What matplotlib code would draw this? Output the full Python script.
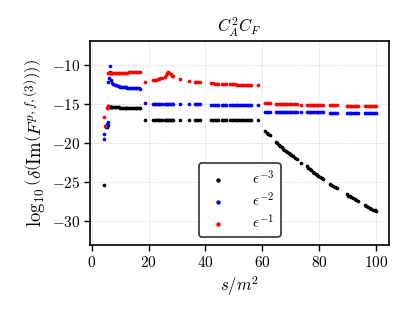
import matplotlib
matplotlib.use("Agg")
import matplotlib.pyplot as plt
import numpy as np

plt.rcParams.update({
    "font.family": "serif",
    "font.serif": ["cmr10"],
    "mathtext.fontset": "cm",
    "axes.formatter.use_mathtext": True,
    "axes.unicode_minus": True,
})

# ---------------- data ----------------
# threshold region (individual points)
xA_e3 = [4.3, 5.2, 5.5]
yA_e3 = [-25.4, -17.9, -17.7]
xA_e2 = [4.2, 4.3, 5.1, 5.3, 5.5]
yA_e2 = [-18.8, -19.5, -17.9, -17.6, -17.35]
xA_e1 = [4.2, 4.6, 5.2, 5.5]
yA_e1 = [-16.6, -17.8, -15.5, -15.3]

# segment B (s/m^2 from ~6 to 17)
xB = [5.8, 6.0, 6.2, 6.4, 6.6, 6.8, 7.0, 7.5, 8.0, 8.5, 9.0, 9.5, 10.0, 10.5,
      11.0, 11.5, 12.0, 12.5, 13.0, 13.5, 14.0, 14.5, 15.0, 15.5, 16.0, 16.5, 17.0]
yB_e3 = [-15.3, -15.32, -15.34, -15.35, -15.36, -15.37, -15.38, -15.39, -15.4,
         -15.41, -15.42, -15.43, -15.44, -15.45, -15.46, -15.47, -15.47, -15.48,
         -15.49, -15.5, -15.5, -15.51, -15.52, -15.52, -15.53, -15.54, -15.55]
yB_e2 = [-12.1, -11.6, -10.9, -10.1, -11.0, -11.9, -12.3, -12.42, -12.52, -12.6,
         -12.66, -12.71, -12.75, -12.78, -12.81, -12.84, -12.86, -12.88, -12.9,
         -12.92, -12.93, -12.95, -12.96, -12.97, -12.98, -12.99, -13.0]
yB_e1 = [-11.05, -11.05, -11.04, -11.04, -11.03, -11.03, -11.02, -11.02, -11.01,
         -11.0, -11.0, -10.99, -10.98, -10.98, -10.97, -10.96, -10.95, -10.95,
         -10.94, -10.93, -10.92, -10.91, -10.9, -10.89, -10.88, -10.87, -10.85]

# segment C (s/m^2 from ~18 to 58)
xC = [18.7, 21.6, 22.1, 22.6, 23.1, 23.6, 24.1, 24.5, 25.7, 26.1, 26.5, 26.9,
      27.3, 27.7, 28.1, 28.6, 31.0, 34.3, 36.3, 36.8, 37.4, 38.0, 42.1, 42.7,
      43.3, 43.9, 44.5, 45.7, 46.3, 46.9, 47.4, 48.6, 49.2, 49.8, 50.4, 51.0,
      51.6, 52.1, 52.7, 53.3, 53.9, 54.5, 55.1, 55.7, 56.2, 58.6]
yC_e3 = [-17.0, -17.02, -17.03, -17.03, -17.03, -17.04, -17.04, -17.04, -17.04,
         -17.04, -17.05, -17.05, -17.05, -17.05, -17.05, -17.05, -17.05, -17.05,
         -17.05, -17.05, -17.05, -17.05, -17.06, -17.06, -17.06, -17.06, -17.06,
         -17.06, -17.06, -17.06, -17.06, -17.06, -17.06, -17.07, -17.07, -17.07,
         -17.07, -17.07, -17.07, -17.07, -17.07, -17.07, -17.07, -17.07, -17.07,
         -17.08]
yC_e2 = [-14.9, -14.97, -14.98, -14.98, -14.99, -14.99, -15.0, -15.0, -15.0,
         -15.0, -15.01, -15.01, -15.01, -15.02, -15.02, -15.02, -15.03, -15.04,
         -15.04, -15.05, -15.05, -15.05, -15.06, -15.06, -15.07, -15.07, -15.07,
         -15.08, -15.08, -15.08, -15.08, -15.09, -15.09, -15.09, -15.09, -15.1,
         -15.1, -15.1, -15.1, -15.1, -15.11, -15.11, -15.11, -15.11, -15.12,
         -15.12]
yC_e1 = [-12.1, -11.95, -11.9, -11.85, -11.8, -11.75, -11.7, -11.65, -11.5,
         -11.3, -11.0, -10.85, -11.0, -11.2, -11.35, -11.45, -11.8, -12.05,
         -12.15, -12.18, -12.2, -12.22, -12.33, -12.35, -12.36, -12.37, -12.38,
         -12.4, -12.41, -12.42, -12.43, -12.45, -12.46, -12.47, -12.48, -12.49,
         -12.5, -12.5, -12.51, -12.52, -12.52, -12.53, -12.54, -12.54, -12.55,
         -12.6]

# segment D (s/m^2 from ~61 to 100)
xD = [60.9, 61.5, 62.1, 62.7, 64.8, 65.3, 65.8, 66.3, 66.8, 67.3, 67.8, 68.3,
      68.8, 69.3, 69.7, 70.3, 70.9, 71.5, 72.1, 73.8, 75.6, 76.2, 76.8, 77.3,
      77.8, 78.3, 78.8, 79.3, 79.8, 80.3, 80.9, 81.5, 83.8, 84.4, 85.0, 85.6,
      86.2, 89.7, 90.3, 90.9, 91.4, 92.0, 92.6, 93.2, 93.8, 96.1, 96.7, 97.3,
      97.9, 98.5, 99.1, 99.6, 100.0]
yD_e3 = [-18.5, -18.65, -18.85, -19.0, -19.9, -20.05, -20.25, -20.4, -20.55,
         -20.75, -20.9, -21.05, -21.15, -21.3, -21.4, -21.55, -21.7, -21.9,
         -22.1, -22.5, -23.0, -23.2, -23.35, -23.5, -23.7, -23.85, -24.0, -24.1,
         -24.2, -24.3, -24.45, -24.6, -25.25, -25.4, -25.55, -25.7, -25.8, -26.6,
         -26.75, -26.85, -26.95, -27.1, -27.2, -27.35, -27.45, -28.0, -28.1,
         -28.2, -28.3, -28.45, -28.55, -28.65, -28.7]
yD_e2 = [-15.98, -15.98, -15.99, -15.99, -16.0, -16.0, -16.0, -16.01, -16.01,
         -16.01, -16.02, -16.02, -16.02, -16.02, -16.03, -16.03, -16.03, -16.03,
         -16.04, -16.04, -16.05, -16.05, -16.05, -16.05, -16.06, -16.06, -16.06,
         -16.06, -16.07, -16.07, -16.07, -16.07, -16.08, -16.08, -16.08, -16.08,
         -16.09, -16.09, -16.09, -16.1, -16.1, -16.1, -16.1, -16.1, -16.11,
         -16.11, -16.11, -16.12, -16.12, -16.12, -16.12, -16.13, -16.13]
yD_e1 = [-14.88, -14.9, -14.91, -14.92, -14.95, -14.96, -14.96, -14.97, -14.98,
         -14.98, -14.99, -15.0, -15.0, -15.01, -15.01, -15.02, -15.03, -15.03,
         -15.04, -15.06, -15.08, -15.09, -15.09, -15.1, -15.1, -15.11, -15.11,
         -15.12, -15.12, -15.13, -15.13, -15.14, -15.16, -15.16, -15.17, -15.17,
         -15.18, -15.2, -15.2, -15.21, -15.21, -15.22, -15.22, -15.22, -15.23,
         -15.24, -15.24, -15.25, -15.25, -15.25, -15.26, -15.26, -15.26]

labels = [r"$\epsilon^{-3}$", r"$\epsilon^{-2}$", r"$\epsilon^{-1}$"]
colors = ["black", "blue", "red"]

series = [
    (xA_e3 + xB + xC + xD, yA_e3 + yB_e3 + yC_e3 + yD_e3),
    (xA_e2 + xB + xC + xD, yA_e2 + yB_e2 + yC_e2 + yD_e2),
    (xA_e1 + xB + xC + xD, yA_e1 + yB_e1 + yC_e1 + yD_e1),
]

# ---------------- plot ----------------
fig = plt.figure(figsize=(4.1, 3.13), dpi=100)
ax = fig.add_axes([0.2195, 0.217, 0.7295, 0.652])

for (x, y), c, lab in zip(series, colors, labels):
    ax.scatter(x, y, s=7, color=c, label=lab, linewidths=0, zorder=3)

ax.set_xlim(-0.7, 104.7)
ax.set_ylim(-33.1, -6.9)
ax.set_xticks([0, 20, 40, 60, 80, 100])
ax.set_yticks([-30, -25, -20, -15, -10])
ax.grid(True, ls="--", lw=0.5, color="0.85", zorder=0)
for sp in ax.spines.values():
    sp.set_linewidth(1.2)
ax.tick_params(direction="out", length=4, width=1, labelsize=11, pad=3)

ax.set_xlabel(r"$s/m^2$", fontsize=12, labelpad=3)
ax.set_ylabel(r"$\log_{10}\left(\delta\left(\mathrm{Im}\left(F^{p,f,(3)}\right)\right)\right)$",
              fontsize=13.5, labelpad=3)
ax.set_title(r"$C_A^2C_F$", fontsize=12, pad=6)

leg = ax.legend(loc="lower center", fontsize=11, frameon=True, fancybox=True,
                framealpha=1, edgecolor="0.2", markerscale=1.2,
                handlelength=1.8, handletextpad=1.3, borderpad=0.4,
                labelspacing=0.3, borderaxespad=0,
                bbox_to_anchor=(0.5, 0.04))
leg.get_frame().set_linewidth(1.2)

fig.savefig("out.png", dpi=100)
